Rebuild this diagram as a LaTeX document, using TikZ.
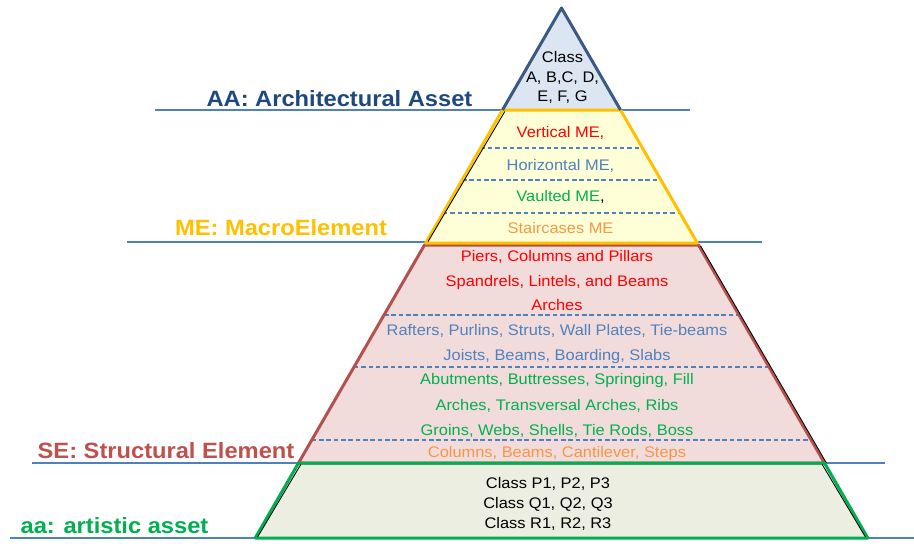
\documentclass[tikz,border=0pt]{standalone}
\usepackage{fontspec}
\setmainfont{Liberation Sans}[FakeStretch=1.07]
\definecolor{guideblue}{HTML}{4F81BD}
\definecolor{aablue}{HTML}{1F497D}
\definecolor{aaedge}{HTML}{3A5A82}
\definecolor{aafill}{HTML}{DCE6F2}
\definecolor{megold}{HTML}{FFC000}
\definecolor{mefill}{HTML}{FFFFD7}
\definecolor{sered}{HTML}{C0504D}
\definecolor{seedge}{HTML}{B4514E}
\definecolor{sefill}{HTML}{F2DCDB}
\definecolor{artgreen}{HTML}{00B050}
\definecolor{artfill}{HTML}{EBEEE0}
\definecolor{txtred}{HTML}{FF0000}
\definecolor{txtblue}{HTML}{4F81BD}
\definecolor{txtgreen}{HTML}{00B050}
\definecolor{txtorange}{HTML}{F79646}
\begin{document}
\begin{tikzpicture}[x=0.75pt,y=-0.75pt,
  txt/.style={font=\fontsize{11.5}{13}\selectfont, anchor=base, inner sep=0pt},
  lbl/.style={font=\fontsize{16.6}{19}\selectfont\bfseries, anchor=base, inner sep=0pt},
  guide/.style={draw=guideblue, line width=0.9pt},
  divider/.style={draw=guideblue, dashed, dash pattern=on 3.3pt off 2.2pt, line width=0.8pt},
  border/.style={line width=2.25pt, line join=round},
  shadowline/.style={draw=black, line width=0.65pt}]
\useasboundingbox (0,0) rectangle (914,543);
\fill[white] (0,0) rectangle (914,543);
% guide lines
\draw[guide] (155,110) -- (690,110);
\draw[guide] (127,242) -- (762,242);
\draw[guide] (32,463) -- (885,463);
\draw[guide] (10,538) -- (914,538);
% layer fills
\fill[sefill] (424.5,245) -- (698.5,245) -- (824.5,463) -- (298.5,463) -- cycle;
\fill[artfill] (298.5,463) -- (824.5,463) -- (867.8,538) -- (255.2,538) -- cycle;
\fill[mefill] (502.5,110) -- (620.5,110) -- (697.3,243) -- (425.7,243) -- cycle;
\fill[aafill] (561.5,8) -- (620.5,110) -- (502.5,110) -- cycle;
% dashed dividers
\draw[divider] (480.6,148) -- (642.4,148);
\draw[divider] (462.1,180) -- (660.9,180);
\draw[divider] (443,213) -- (680,213);
\draw[divider] (384.1,315) -- (738.9,315);
\draw[divider] (354,367) -- (769,367);
\draw[divider] (311.8,440) -- (811.2,440);
% borders
\draw[border, draw=seedge] (424.5,245) -- (698.5,245) -- (824.5,463) -- (298.5,463) -- cycle;
\draw[shadowline] (700.6,246) -- (826.4,463);
\draw[border, draw=artgreen] (298.5,463) -- (824.5,463) -- (867.8,538) -- (255.2,538) -- cycle;
\draw[shadowline] (300.8,464.5) -- (257.6,537);
\draw[shadowline] (822.2,464.5) -- (865.4,537);
\draw[border, draw=megold] (502.5,110) -- (620.5,110) -- (697.3,243) -- (425.7,243) -- cycle;
\draw[shadowline] (504.8,111.5) -- (428.1,241.5);
\draw[border, draw=aaedge] (502.5,110) -- (561.5,8) -- (620.5,110);
% level labels
\node[lbl, text=aablue] (lAA) at (339.5,106.7) {AA: Architectural Asset};
\node[lbl, text=megold] (lME) at (281,235) {ME: MacroElement};
\node[lbl, text=sered] (lSE) at (166,458.3) {SE: Structural Element};
\node[lbl, text=artgreen] (laa) at (114.5,533.3) {aa: artistic asset};
% AA contents
\node[txt] (aa1) at (562.5,62) {Class};
\node[txt] (aa2) at (562.5,82.3) {A, B,C, D,};
\node[txt] (aa3) at (562.5,101.7) {E, F, G};
% ME contents
\node[txt, text=txtred] (me1) at (560.5,137.7) {Vertical ME,};
\node[txt, text=txtblue] (me2) at (560.5,170.7) {Horizontal ME,};
\node[txt] (me3) at (560.5,201.7) {\textcolor{txtgreen}{Vaulted ME},};
\node[txt, text=txtorange] (me4) at (560.5,233.3) {Staircases ME};
% SE contents
\node[txt, text=txtred] (se1) at (557,261) {Piers, Columns and Pillars};
\node[txt, text=txtred] (se2) at (557,286) {Spandrels, Lintels, and Beams};
\node[txt, text=txtred] (se3) at (557,310.7) {Arches};
\node[txt, text=txtblue] (se4) at (557,335.7) {Rafters, Purlins, Struts, Wall Plates, Tie-beams};
\node[txt, text=txtblue] (se5) at (557,360) {Joists, Beams, Boarding, Slabs};
\node[txt, text=txtgreen] (se6) at (557,384.7) {Abutments, Buttresses, Springing, Fill};
\node[txt, text=txtgreen] (se7) at (557,410) {Arches, Transversal Arches, Ribs};
\node[txt, text=txtgreen] (se8) at (557,435) {Groins, Webs, Shells, Tie Rods, Boss};
\node[txt, text=txtorange] (se9) at (557,457.3) {Columns, Beams, Cantilever, Steps};
% aa contents
\node[txt] (ar1) at (548,488.3) {Class P1, P2, P3};
\node[txt] (ar2) at (548,508.3) {Class Q1, Q2, Q3};
\node[txt] (ar3) at (548,528.7) {Class R1, R2, R3};
\end{tikzpicture}
\end{document}
